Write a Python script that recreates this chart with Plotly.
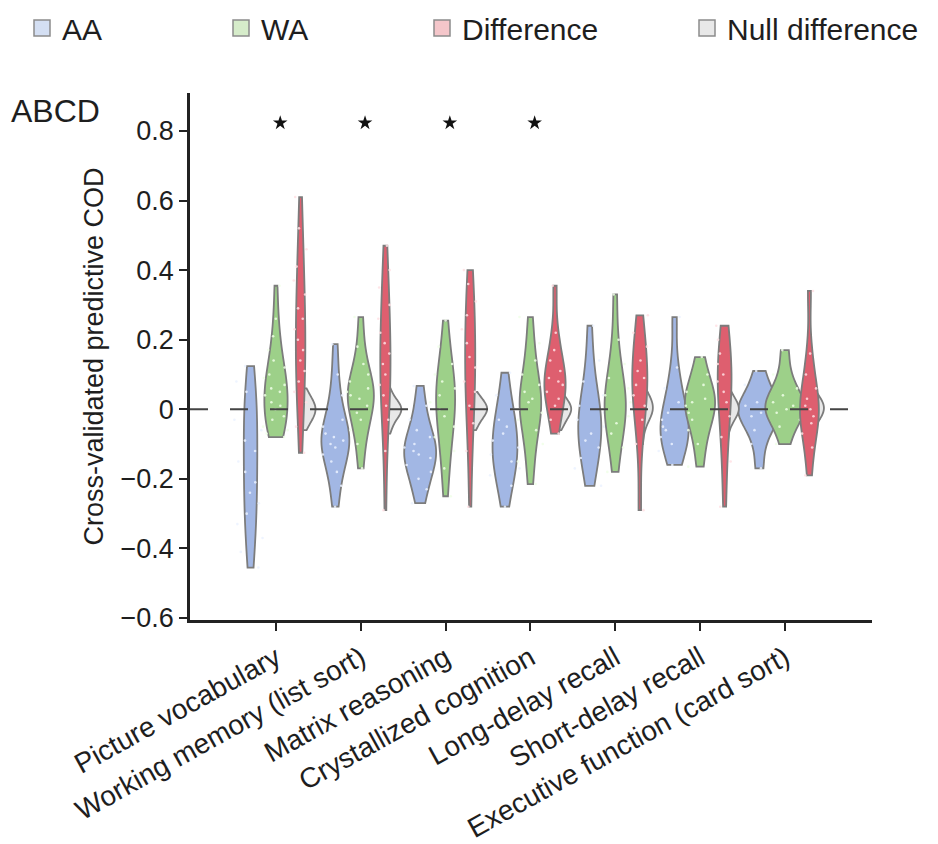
import plotly.graph_objects as go

# ---------------- data ----------------
categories = [
    "Picture vocabulary",
    "Working memory (list sort)",
    "Matrix reasoning",
    "Crystallized cognition",
    "Long-delay recall",
    "Short-delay recall",
    "Executive function (card sort)",
]

aa_values = [
    [0.124, 0.08, 0.05, 0.02, 0.0, -0.03, -0.06, -0.09, -0.12, -0.15, -0.18, -0.21, -0.24, -0.27, -0.30, -0.33, -0.37, -0.41, -0.455],
    [0.187, 0.10, 0.04, 0.0, -0.03, -0.05, -0.07, -0.08, -0.09, -0.10, -0.11, -0.13, -0.15, -0.18, -0.22, -0.28],
    [0.067, 0.01, -0.03, -0.06, -0.08, -0.10, -0.11, -0.12, -0.13, -0.14, -0.16, -0.18, -0.20, -0.23, -0.27],
    [0.105, 0.04, 0.0, -0.03, -0.05, -0.07, -0.09, -0.11, -0.13, -0.15, -0.17, -0.19, -0.22, -0.28],
    [0.24, 0.14, 0.08, 0.04, 0.01, -0.01, -0.03, -0.05, -0.07, -0.09, -0.11, -0.14, -0.17, -0.22],
    [0.265, 0.12, 0.06, 0.02, -0.01, -0.03, -0.05, -0.06, -0.08, -0.10, -0.12, -0.16],
    [0.11, 0.07, 0.04, 0.02, 0.01, 0.0, -0.01, -0.02, -0.04, -0.06, -0.10, -0.17],
]

wa_values = [
    [0.355, 0.26, 0.21, 0.17, 0.14, 0.12, 0.10, 0.09, 0.07, 0.06, 0.05, 0.04, 0.02, 0.01, 0.0, -0.02, -0.03, -0.05, -0.06, -0.07, -0.08],
    [0.265, 0.18, 0.13, 0.10, 0.08, 0.06, 0.05, 0.04, 0.03, 0.01, -0.01, -0.03, -0.06, -0.10, -0.17],
    [0.255, 0.18, 0.13, 0.10, 0.08, 0.06, 0.04, 0.02, 0.0, -0.02, -0.05, -0.08, -0.12, -0.17, -0.25],
    [0.265, 0.19, 0.14, 0.10, 0.07, 0.05, 0.03, 0.02, 0.0, -0.01, -0.03, -0.06, -0.10, -0.15, -0.215],
    [0.33, 0.20, 0.13, 0.09, 0.06, 0.04, 0.02, 0.0, -0.02, -0.04, -0.07, -0.11, -0.18],
    [0.15, 0.10, 0.07, 0.05, 0.03, 0.02, 0.01, -0.01, -0.03, -0.06, -0.10, -0.165],
    [0.17, 0.10, 0.06, 0.04, 0.02, 0.01, 0.0, -0.01, -0.03, -0.05, -0.10],
]

diff_values = [
    [0.61, 0.52, 0.46, 0.41, 0.37, 0.33, 0.29, 0.26, 0.23, 0.20, 0.17, 0.14, 0.11, 0.08, 0.05, 0.02, -0.05, -0.125],
    [0.47, 0.40, 0.35, 0.30, 0.26, 0.22, 0.19, 0.16, 0.13, 0.10, 0.07, 0.04, 0.01, -0.03, -0.12, -0.29],
    [0.40, 0.36, 0.31, 0.27, 0.23, 0.19, 0.15, 0.12, 0.08, 0.05, 0.01, -0.04, -0.12, -0.28],
    [0.355, 0.22, 0.17, 0.14, 0.11, 0.09, 0.08, 0.07, 0.05, 0.03, 0.01, -0.03, -0.07],
    [0.27, 0.22, 0.18, 0.14, 0.11, 0.09, 0.07, 0.04, 0.01, -0.03, -0.10, -0.29],
    [0.24, 0.20, 0.16, 0.13, 0.10, 0.08, 0.05, 0.02, -0.02, -0.08, -0.15, -0.28],
    [0.34, 0.16, 0.10, 0.06, 0.03, 0.01, 0.0, -0.02, -0.04, -0.07, -0.11, -0.19],
]

null_values = [
    [0.06, 0.035, 0.02, 0.01, 0.0, -0.01, -0.02, -0.035, -0.06],
    [0.06, 0.03, 0.015, 0.005, 0.0, -0.01, -0.02, -0.04, -0.07],
    [0.05, 0.03, 0.015, 0.005, 0.0, -0.005, -0.02, -0.035, -0.06],
    [0.05, 0.03, 0.015, 0.005, 0.0, -0.01, -0.02, -0.04, -0.06],
    [0.06, 0.035, 0.02, 0.01, 0.0, -0.01, -0.025, -0.05, -0.10],
    [0.06, 0.03, 0.015, 0.005, 0.0, -0.01, -0.025, -0.05, -0.10],
    [0.05, 0.03, 0.015, 0.005, 0.0, -0.01, -0.025, -0.05, -0.11],
]

significant = [True, True, True, True, False, False, False]
star_level = 0.823

# ---------------- layout constants ----------------
FONT = "Liberation Sans, Arial, Helvetica, sans-serif"
TXT = "#1e1e1e"
OFF_AA, OFF_WA, OFF_DIFF = -0.30, 0.0, 0.29
STAR_OFF = 0.05
X_RANGE = [-1.014, 7.028]
Y_RANGE = [-0.6057, 0.909]
PAGE_OFF = 8          # default body margin of the html page
PLOT_L, PLOT_T, PLOT_W, PLOT_H = 190, 93, 682, 527   # plot area in page pixels
FIG_W, FIG_H = 938 - PAGE_OFF, 844 - PAGE_OFF

fig = go.Figure()


def add_violin(values, offset, name, fill, width, point_color, side="both", points="all"):
    xs, ys = [], []
    for i, vals in enumerate(values):
        xs += [i + offset] * len(vals)
        ys += vals
    fig.add_trace(go.Violin(
        x=xs, y=ys, name=name, showlegend=False,
        fillcolor=fill, line=dict(color="#7c7c7c", width=1.8),
        width=width, scalemode="width", spanmode="hard", side=side,
        points=points, pointpos=0, jitter=0.8,
        marker=dict(size=2.6, color=point_color),
        hoverinfo="skip",
    ))


add_violin(aa_values, OFF_AA, "AA", "#a2b7e4", 0.50, "rgba(235,242,255,0.85)")
add_violin(wa_values, OFF_WA, "WA", "#9dd089", 0.46, "rgba(240,255,232,0.85)")
add_violin(null_values, OFF_DIFF, "Null difference", "#e8e8e8", 0.40, "rgba(0,0,0,0)",
           side="positive", points=False)
add_violin(diff_values, OFF_DIFF, "Difference", "#de5f6f", 0.25, "rgba(255,225,228,0.85)")

# significance stars
star_x = [i + STAR_OFF for i, s in enumerate(significant) if s]
fig.add_trace(go.Scatter(
    x=star_x, y=[star_level] * len(star_x), mode="markers",
    marker=dict(symbol="star", size=11, color="#111"),
    showlegend=False, hoverinfo="skip",
))

# legend entries (one legend each to reproduce the spacing)
legend_specs = [
    ("AA", "#d4dff3", "legend"),
    ("WA", "#d6ecca", "legend2"),
    ("Difference", "#f4c6ca", "legend3"),
    ("Null difference", "#e8e8e8", "legend4"),
]
for name, col, lg in legend_specs:
    fig.add_trace(go.Scatter(
        x=[None], y=[None], mode="markers", name=name, legend=lg,
        marker=dict(symbol="square", size=16, color=col,
                    line=dict(color="#8c8c8c", width=1.5)),
    ))

# zero reference line
fig.add_shape(type="line", xref="paper", yref="y", x0=0, x1=0.997, y0=0, y1=0,
              line=dict(color="#444", width=2, dash="18px,22px"), layer="above")


def px_x(px):
    return (px - PLOT_L) / PLOT_W


def px_y(py):
    return (PLOT_T + PLOT_H - py) / PLOT_H


fig.add_annotation(text="ABCD", xref="paper", yref="paper",
                   x=px_x(PAGE_OFF + 1), y=px_y(111),
                   xanchor="left", yanchor="middle", showarrow=False,
                   font=dict(family=FONT, size=32, color=TXT))

leg_common = dict(orientation="h", yanchor="middle", xanchor="left",
                  y=px_y(28), bgcolor="rgba(0,0,0,0)",
                  font=dict(family=FONT, size=30, color=TXT))
leg_x_px = [22, 221, 422, 687]

fig.update_layout(
    width=FIG_W, height=FIG_H,
    margin=dict(l=PLOT_L - PAGE_OFF, r=FIG_W + PAGE_OFF - PLOT_L - PLOT_W,
                t=PLOT_T - PAGE_OFF, b=FIG_H + PAGE_OFF - PLOT_T - PLOT_H,
                autoexpand=False),
    paper_bgcolor="white", plot_bgcolor="white",
    violinmode="overlay",
    font=dict(family=FONT, size=27, color=TXT),
    legend=dict(x=px_x(leg_x_px[0]), **leg_common),
    legend2=dict(x=px_x(leg_x_px[1]), **leg_common),
    legend3=dict(x=px_x(leg_x_px[2]), **leg_common),
    legend4=dict(x=px_x(leg_x_px[3]), **leg_common),
    xaxis=dict(
        range=X_RANGE, tickmode="array", tickvals=list(range(len(categories))),
        ticktext=categories, tickangle=-29, showline=True, linecolor="#222",
        linewidth=2.5, ticks="outside", ticklen=8, tickwidth=2, tickcolor="#222",
        showgrid=False, zeroline=False, automargin=False,
        tickfont=dict(family=FONT, size=28, color=TXT),
    ),
    yaxis=dict(
        range=Y_RANGE, tickmode="array", tickvals=[-0.6, -0.4, -0.2, 0, 0.2, 0.4, 0.6, 0.8],
        ticktext=["\u22120.6", "\u22120.4", "\u22120.2", "0", "0.2", "0.4", "0.6", "0.8"],
        showline=True, linecolor="#222", linewidth=2.5, ticks="outside", ticklen=8,
        tickwidth=2, tickcolor="#222", showgrid=False, zeroline=False, automargin=False,
        tickfont=dict(family=FONT, size=27, color=TXT),
        title=dict(text="Cross-validated predictive COD", standoff=10,
                   font=dict(family=FONT, size=27, color=TXT)),
    ),
)

fig.write_html("out.html")
